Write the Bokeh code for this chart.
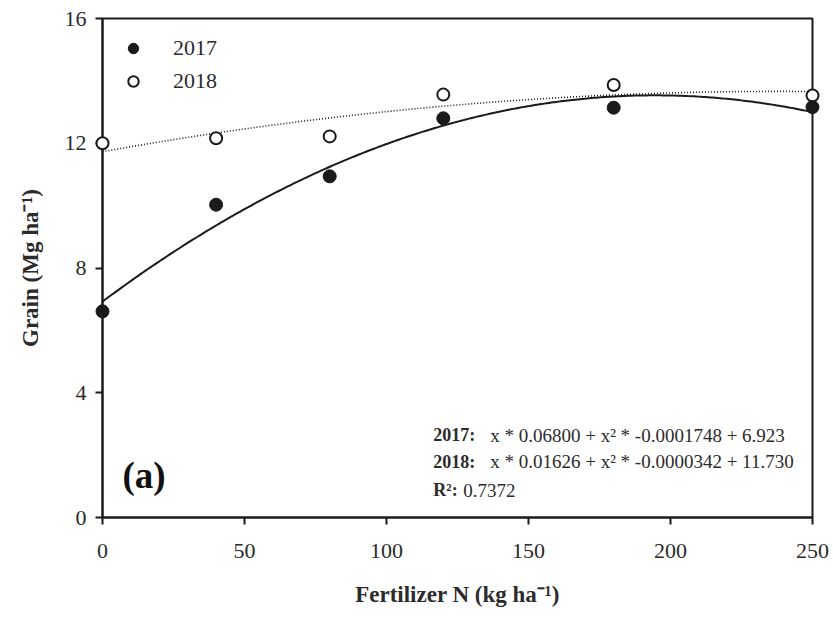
import numpy as np
from bokeh.plotting import figure
from bokeh.models import Range1d, FixedTicker, Legend, LegendItem, Label
from bokeh.embed import file_html
from bokeh.resources import INLINE

# Grain yield by fertilizer N rate, two seasons
fert_n = [0, 40, 80, 120, 180, 250]
grain_2017 = [6.61, 10.03, 10.94, 12.80, 13.14, 13.16]
grain_2018 = [12.00, 12.16, 12.22, 13.56, 13.87, 13.53]

# Quadratic fits: intercept, linear, quadratic coefficients
fit_2017 = [6.923, 0.06800, -0.0001748]
fit_2018 = [11.730, 0.01626, -0.0000342]
r_squared = "0.7372"

x_ticks = [0, 50, 100, 150, 200, 250]
y_ticks = [0, 4, 8, 12, 16]

SERIF = "Liberation Serif"
INK = "#1a1a1a"
TEXT = "#2b2b2b"

x_max = x_ticks[-1]
y_max = y_ticks[-1]

p = figure(
    width=833, height=620,
    x_range=Range1d(0, x_max), y_range=Range1d(0, y_max),
    output_backend="svg", toolbar_location=None,
    min_border_left=102, min_border_right=21, min_border_top=18, min_border_bottom=103,
)
p.outline_line_color = INK
p.outline_line_width = 2
p.xgrid.visible = False
p.ygrid.visible = False
p.background_fill_color = "white"
p.border_fill_color = "white"

# axes
for ax in (p.xaxis[0], p.yaxis[0]):
    ax.axis_line_color = INK
    ax.axis_line_width = 2
    ax.major_tick_line_color = INK
    ax.major_tick_line_width = 2
    ax.major_tick_out = 7
    ax.major_tick_in = 0
    ax.minor_tick_line_color = None
    ax.major_label_text_font = SERIF
    ax.major_label_text_font_size = "22px"
    ax.major_label_text_color = TEXT
    ax.axis_label_text_font = SERIF
    ax.axis_label_text_font_style = "bold"
    ax.axis_label_text_font_size = "23px"
    ax.axis_label_text_color = TEXT

p.xaxis.ticker = FixedTicker(ticks=x_ticks)
p.yaxis.ticker = FixedTicker(ticks=y_ticks)
p.xaxis.major_label_standoff = 19
p.yaxis.major_label_standoff = 9
p.xaxis.axis_label_standoff = 21
p.yaxis.axis_label_standoff = 19
p.xaxis.axis_label = "Fertilizer N (kg ha\u207b\u00b9)"
p.yaxis.axis_label = "Grain (Mg ha\u207b\u00b9)"

# fitted curves
xs = np.linspace(0, x_max, 300)
def quad(c, x):
    return c[0] + c[1] * x + c[2] * x ** 2

p.line(xs, quad(fit_2017, xs), line_color=INK, line_width=2)
p.line(xs, quad(fit_2018, xs), line_color=INK, line_width=1.6, line_dash="1 2")

# observations, drawn on the overlay level so edge points are not cut by the frame
r18 = p.scatter(fert_n, grain_2018, marker="circle", size=12,
                fill_color="white", line_color=INK, line_width=2, level="overlay")
r17 = p.scatter(fert_n, grain_2017, marker="circle", size=13,
                fill_color=INK, line_color=INK, line_width=1, level="overlay")

legend = Legend(
    items=[LegendItem(label="2017", renderers=[r17]),
           LegendItem(label="2018", renderers=[r18])],
    location="top_left", margin=17, padding=0,
    glyph_width=28, glyph_height=26, label_height=26, spacing=7,
    label_standoff=26, border_line_color=None, background_fill_alpha=0,
    label_text_font=SERIF, label_text_font_size="22px", label_text_color=TEXT,
    label_text_baseline="middle",
)
p.add_layout(legend)

# fit equations
def eq_label(x, y, text, bold, size):
    p.add_layout(Label(x=x, y=y, text=text, text_font=SERIF,
                       text_font_size=size, text_color=TEXT,
                       text_font_style="bold" if bold else "normal",
                       text_baseline="middle"))

def fmt(c, dig1, dig2, dig0):
    return f"x * {c[1]:.{dig1}f} + x\u00b2 * {c[2]:.{dig2}f} + {c[0]:.{dig0}f}"

eq_label(116.5, 2.63, "2017:", True, "18px")
eq_label(136.5, 2.63, fmt(fit_2017, 5, 7, 3), False, "19px")
eq_label(116.5, 1.79, "2018:", True, "18px")
eq_label(136.5, 1.79, fmt(fit_2018, 5, 7, 3), False, "19px")
eq_label(116.5, 0.87, "R\u00b2:", True, "18px")
eq_label(127.0, 0.87, r_squared, False, "19px")

p.add_layout(Label(x=7, y=1.35, text="(a)", text_font=SERIF, text_font_size="37px",
                   text_font_style="bold", text_color="#111", text_baseline="middle"))

open("out.html", "w").write(file_html(p, INLINE))
